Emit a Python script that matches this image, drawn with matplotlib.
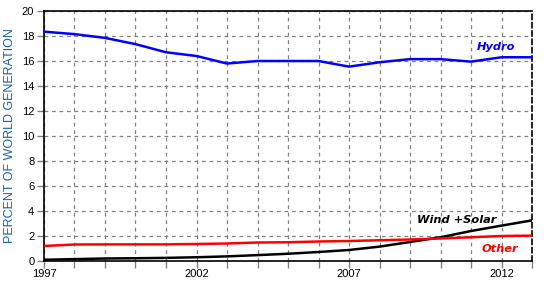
import numpy as np
import matplotlib.pyplot as plt

# valeurs (% de la production mondiale)
years = np.arange(1997, 2014)
hydro = [18.35, 18.15, 17.85, 17.35, 16.7, 16.4, 15.8, 16.0, 16.0, 16.0,
         15.55, 15.9, 16.15, 16.15, 15.95, 16.3, 16.3]
wind_solar = [0.1, 0.15, 0.2, 0.22, 0.25, 0.3, 0.37, 0.47, 0.58, 0.72,
              0.88, 1.15, 1.52, 1.9, 2.4, 2.83, 3.25]
other = [1.2, 1.32, 1.33, 1.33, 1.33, 1.36, 1.4, 1.48, 1.5, 1.56,
         1.6, 1.66, 1.72, 1.8, 1.9, 2.0, 2.03]

xticks = [1997, 2002, 2007, 2012]
yticks = np.arange(0, 21, 2)

fig = plt.figure(figsize=(5.52, 2.90), dpi=100)
ax = fig.add_axes([0.0797, 0.1, 0.8841, 0.862])

ax.plot(years, hydro, color='#0000ff', lw=1.8, zorder=3)
ax.plot(years, wind_solar, color='black', lw=1.8, zorder=3)
ax.plot(years, other, color='#ff0000', lw=1.8, zorder=3)

ax.set_xlim(1997, 2013)
ax.set_ylim(0, 20)
ax.set_xticks(years, minor=True)
ax.set_xticks(xticks)
ax.set_xticklabels([str(y) for y in xticks])
ax.set_yticks(yticks)

ax.grid(True, which='both', color='#808080', ls=(0, (3, 3)), lw=0.9)
ax.tick_params(axis='both', which='both', labelsize=8, color='#808080',
               length=5, width=1, pad=2)
ax.tick_params(axis='x', pad=1)
for lab in ax.get_xticklabels() + ax.get_yticklabels():
    lab.set_family('Liberation Sans')

for s in ['left', 'bottom', 'top']:
    ax.spines[s].set_color('black')
    ax.spines[s].set_linewidth(1.2)
ax.spines['right'].set_linestyle((0, (3, 2)))
ax.spines['right'].set_linewidth(1.2)

ax.set_ylabel('PERCENT OF WORLD GENERATION', fontsize=9, color='#1a5fa8',
              family='Liberation Sans', labelpad=4)

style = dict(fontsize=8.2, fontweight='bold', fontstyle='italic',
             ha='center', va='center')
ax.text(2011.82, 17.15, 'Hydro', color='#0000ff', **style)
ax.text(2010.54, 3.28, 'Wind +Solar', color='black', **style)
ax.text(2011.95, 0.96, 'Other', color='#ff0000', **style)

fig.savefig('out.png', dpi=100)
